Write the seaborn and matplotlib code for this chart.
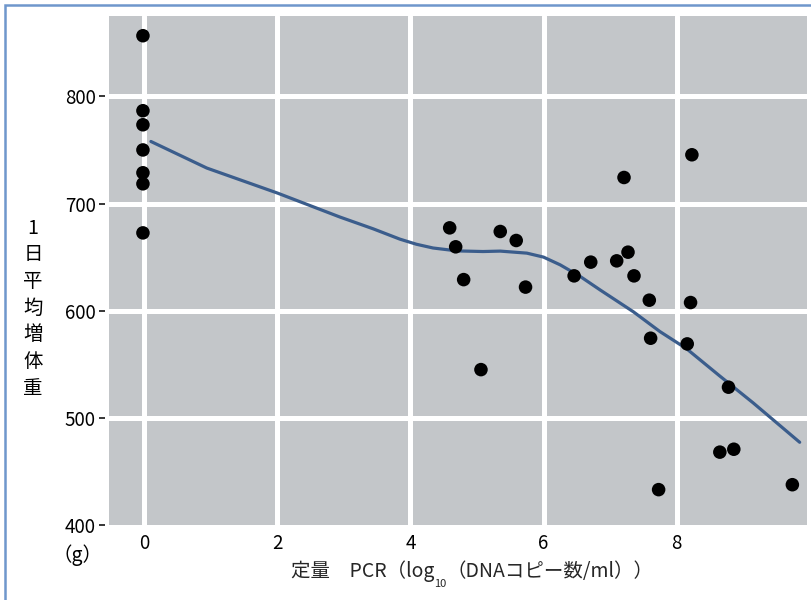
import matplotlib
matplotlib.use("Agg")
import matplotlib.pyplot as plt
from matplotlib.patches import Rectangle
import seaborn as sns

# ---- data ----
pcr_x = [-0.02, -0.02, -0.02, -0.02, -0.02, -0.02, -0.02,
         4.59, 4.68, 4.80, 5.06, 5.35, 5.59, 5.73,
         6.46, 6.71, 7.10, 7.21, 7.27, 7.36, 7.59, 7.61, 7.73,
         8.23, 8.21, 8.16, 8.78, 8.65, 8.86, 9.74]
weight_y = [856.6, 786.6, 773.5, 750.0, 728.7, 718.4, 672.6,
            677.3, 659.6, 629.0, 545.0, 673.9, 665.5, 622.0,
            632.5, 645.3, 646.5, 724.3, 654.6, 632.5, 609.8, 574.3, 433.0,
            745.5, 607.6, 569.0, 528.6, 468.0, 470.7, 437.6]

curve_x = [0.10, 0.94, 2.00, 2.94, 3.44, 3.84, 4.09, 4.34, 4.70, 5.09, 5.35,
           5.75, 6.00, 6.25, 6.55, 6.85, 7.35, 7.75, 8.15, 8.65, 9.15, 9.85]
curve_y = [757.9, 733.1, 709.8, 687.4, 676.4, 666.8, 662.0, 658.5, 655.8, 655.2, 655.6,
           653.7, 650.0, 642.8, 632.0, 619.4, 599.0, 580.5, 564.5, 539.0, 514.0, 477.2]

x_ticks = [0, 2, 4, 6, 8]
y_ticks = [400, 500, 600, 700, 800]
ylabel_chars = ["1", "日", "平", "均", "増", "体", "重"]
unit_label = "（g）"
xlabel_parts = ["定量　PCR（log", "10", "（DNAコピー数/ml））"]

# ---- style ----
sns.set_style("darkgrid", {"axes.facecolor": "#c3c6c9", "grid.color": "white"})
plt.rcParams["font.family"] = ["Noto Sans CJK JP", "DejaVu Sans"]

W, H = 812, 600
fig = plt.figure(figsize=(W / 100, H / 100), dpi=100)
fig.patch.set_facecolor("white")
ax = fig.add_axes([109 / W, 75 / H, 698 / W, 509 / H])
ax.set_axisbelow(True)

sns.lineplot(x=curve_x, y=curve_y, color="#3b5d8c", linewidth=2.3,
             sort=False, estimator=None, ax=ax, zorder=2)
sns.scatterplot(x=pcr_x, y=weight_y, s=95, color="black", edgecolor="none",
                ax=ax, zorder=3)

ax.set_xlim(-0.53, 9.96)
ax.set_ylim(400, 875)
ax.set_xticks(x_ticks)
ax.set_yticks(y_ticks)
ax.grid(True, color="white", linewidth=3.6)
for s in ax.spines.values():
    s.set_visible(False)
ax.spines["left"].set_position(("outward", 3))
ax.tick_params(axis="y", left=True, length=4.5, width=1.1, color="black",
               direction="out", pad=2, labelsize=13.5, labelcolor="black")
ax.tick_params(axis="x", bottom=False, length=0, pad=6, labelsize=13.5,
               labelcolor="black")
ax.set_xlabel("")
ax.set_ylabel("")
ax.yaxis.get_gridlines()[0].set_visible(False)

# ---- y label (stacked characters) ----
for i, ch in enumerate(ylabel_chars):
    fig.text(33 / W, 1 - (228 + i * 26.7) / H, ch, ha="center", va="center",
             fontsize=14, color="black")
fig.text(78 / W, 1 - 555 / H, unit_label, ha="center", va="center",
         fontsize=14, color="black")

# ---- x label with subscript ----
yb = 1 - 577 / H
t1 = fig.text(0, yb, xlabel_parts[0], ha="left", va="baseline", fontsize=14)
t2 = fig.text(0, 1 - 587 / H, xlabel_parts[1], ha="left", va="baseline", fontsize=8)
t3 = fig.text(0, yb, xlabel_parts[2], ha="left", va="baseline", fontsize=14)
renderer = fig.canvas.get_renderer()
w1 = t1.get_window_extent(renderer).width
w2 = t2.get_window_extent(renderer).width
w3 = t3.get_window_extent(renderer).width
start = 472 - (w1 + w2 + w3) / 2
t1.set_x(start / W)
t2.set_x((start + w1) / W)
t3.set_x((start + w1 + w2) / W)

# ---- blue frame ----
fig.add_artist(Rectangle((5 / W, -0.1), 1.2, (1 - 5 / H) + 0.1,
                         transform=fig.transFigure, fill=False,
                         edgecolor="#6f97cc", linewidth=1.8, clip_on=False))

fig.savefig("out.png", dpi=100)
